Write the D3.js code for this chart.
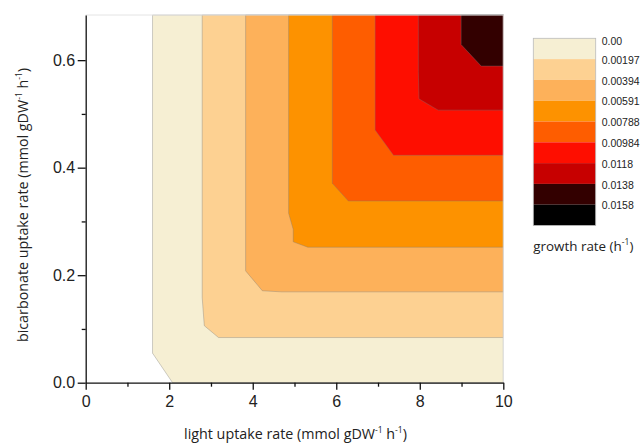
<!DOCTYPE html>
<html>
<head>
<meta charset="utf-8">
<script src="https://cdn.jsdelivr.net/npm/d3@7"></script>
<style>
  body { margin: 0; background: #fff; }
  svg { display: block; }
  .tick text { font-family: "Liberation Sans", Arial, sans-serif; fill: #222; }
</style>
</head>
<body>
<svg id="chart" width="644" height="444"></svg>
<script>
// contour levels of the growth rate (h-1)
const levels = ['0.00', '0.00197', '0.00394', '0.00591', '0.00788', '0.00984', '0.0118', '0.0138', '0.0158'];
const levelColors = ['#f6efd3', '#fdd192', '#fdb15a', '#fd9200', '#fe5d00', '#fe0e00', '#c70000', '#330000', '#000000'];

// lower-left boundary of each region (light, bicarbonate)
const boundary0 = [[1.60, 0.684], [1.60, 0.055], [2.08, 0.0]];
const boundary1 = [[2.79, 0.684], [2.79, 0.158], [2.84, 0.106], [3.18, 0.084]];
const boundary2 = [[3.83, 0.684], [3.83, 0.208], [4.23, 0.171], [4.69, 0.169]];
const boundary3 = [[4.86, 0.684], [4.86, 0.315], [4.97, 0.285], [4.97, 0.262], [5.32, 0.252]];
const boundary4 = [[5.905, 0.684], [5.905, 0.371], [6.29, 0.338]];
const boundary5 = [[6.93, 0.684], [6.93, 0.470], [7.37, 0.423]];
const boundary6 = [[7.965, 0.684], [7.965, 0.578], [7.98, 0.528], [8.44, 0.507]];
const boundary7 = [[8.99, 0.684], [8.99, 0.629], [9.47, 0.589]];
const boundaries = [boundary0, boundary1, boundary2, boundary3, boundary4, boundary5, boundary6, boundary7];

const xMajor = [0, 2, 4, 6, 8, 10];
const xMinor = [1, 3, 5, 7, 9];
const yMajor = [0.0, 0.2, 0.4, 0.6];
const yMinor = [0.1, 0.3, 0.5];
const xMax = 10;
const yMax = 0.684;

const svg = d3.select('#chart');

const x = d3.scaleLinear().domain([0, xMax]).range([85.7, 503.3]);
const y = d3.scaleLinear().domain([0, yMax]).range([382.7, 15]);

// filled regions, painted from lowest level up
const line = d3.line().x(d => x(d[0])).y(d => y(d[1]));
boundaries.forEach((b, i) => {
    const last = b[b.length - 1];
    const pts = b.concat([[xMax, last[1]], [xMax, yMax]]);
    svg.append('path')
        .attr('d', line(pts) + 'Z')
        .attr('fill', levelColors[i])
        .attr('stroke', 'rgba(120,120,120,0.45)')
        .attr('stroke-width', 0.8);
});

// light frame top / right
svg.append('path')
    .attr('d', `M${x(0)},${y(yMax)}H${x(xMax)}V${y(0)}`)
    .attr('fill', 'none')
    .attr('stroke', '#e4e4e4')
    .attr('stroke-width', 1);

// axes
svg.append('g')
    .attr('transform', `translate(0,${y(0)})`)
    .call(d3.axisBottom(x).tickValues(xMajor).tickFormat(d3.format('d')).tickSize(7).tickSizeOuter(0).tickPadding(6));
svg.append('g')
    .attr('transform', `translate(0,${y(0)})`)
    .call(d3.axisBottom(x).tickValues(xMinor).tickFormat('').tickSize(4).tickSizeOuter(0))
    .select('.domain').remove();

svg.append('g')
    .attr('transform', `translate(${x(0)},0)`)
    .call(d3.axisLeft(y).tickValues(yMajor).tickFormat(d3.format('.1f')).tickSize(8).tickSizeOuter(0).tickPadding(2.5));
svg.append('g')
    .attr('transform', `translate(${x(0)},0)`)
    .call(d3.axisLeft(y).tickValues(yMinor).tickFormat('').tickSize(4).tickSizeOuter(0))
    .select('.domain').remove();

svg.selectAll('.domain, .tick line').attr('stroke', '#111').attr('stroke-width', 1.3);
svg.selectAll('.tick text').style('font-size', '16px');

// axis titles
const titleFont = '"Open Sans", "Noto Sans", sans-serif';
function unitTitle(sel, label) {
    sel.append('tspan').text(label + ' (mmol gDW');
    sel.append('tspan').attr('font-size', '8.5px').attr('dy', -6).text('-1');
    sel.append('tspan').attr('dy', 6).text(' h');
    sel.append('tspan').attr('font-size', '8.5px').attr('dy', -6).text('-1');
    sel.append('tspan').attr('dy', 6).text(')');
}
const xt = svg.append('text')
    .attr('x', 295.5).attr('y', 439)
    .attr('text-anchor', 'middle')
    .attr('font-family', titleFont).attr('font-size', '14.3px').attr('fill', '#222');
unitTitle(xt, 'light uptake rate');

const yt = svg.append('text')
    .attr('transform', 'translate(28,205) rotate(-90)')
    .attr('text-anchor', 'middle')
    .attr('font-family', titleFont).attr('font-size', '14.3px').attr('fill', '#222');
unitTitle(yt, 'bicarbonate uptake rate');

// legend
const legX = 533.3, legY = 38.3, legW = 62.4, legH = 20.8;
const leg = svg.append('g');
leg.selectAll('rect')
    .data(levels)
    .enter().append('rect')
    .attr('x', legX)
    .attr('y', (d, i) => legY + i * legH)
    .attr('width', legW)
    .attr('height', legH)
    .attr('fill', (d, i) => levelColors[i]);
leg.append('rect')
    .attr('x', legX).attr('y', legY)
    .attr('width', legW).attr('height', legH * levels.length)
    .attr('fill', 'none').attr('stroke', '#bbb').attr('stroke-width', 0.8);
leg.selectAll('text.lab')
    .data(levels)
    .enter().append('text')
    .attr('class', 'lab')
    .attr('x', legX + legW + 6)
    .attr('y', (d, i) => i === 0 ? legY + 3.5 : legY + i * legH + 1)
    .attr('dy', '0.35em')
    .attr('font-family', '"Liberation Sans", Arial, sans-serif')
    .attr('font-size', '10.5px')
    .attr('fill', '#222')
    .text(d => d);

const lt = leg.append('text')
    .attr('x', legX).attr('y', 251)
    .attr('font-family', titleFont).attr('font-size', '13.4px').attr('fill', '#222');
lt.append('tspan').text('growth rate (h');
lt.append('tspan').attr('font-size', '8.5px').attr('dy', -6).text('-1');
lt.append('tspan').attr('dy', 6).text(')');
</script>
</body>
</html>
